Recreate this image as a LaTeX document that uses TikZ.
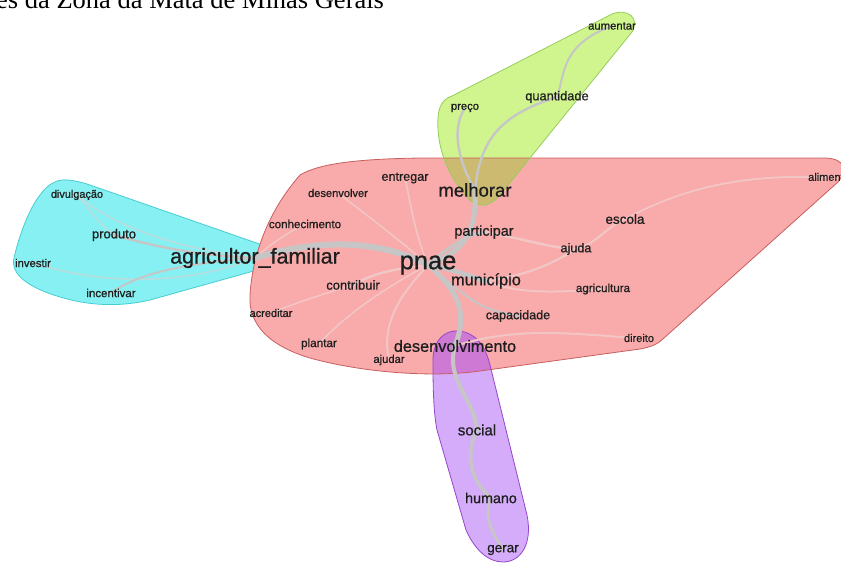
\documentclass[tikz,border=0pt]{standalone}
\usepackage{fontspec}
\setmainfont{Liberation Sans}
\newfontfamily\labfont[FakeBold=0.8]{Liberation Sans}
\newfontfamily\titlefont{Liberation Serif}
\pgfdeclarelayer{blobs}
\pgfdeclarelayer{edges}
\pgfsetlayers{blobs,edges,main}
\definecolor{redfill}{RGB}{249,170,170}
\definecolor{redline}{RGB}{200,95,95}
\definecolor{cyanfill}{RGB}{135,240,242}
\definecolor{cyanline}{RGB}{70,205,210}
\definecolor{greenfill}{RGB}{208,244,142}
\definecolor{greenline}{RGB}{150,205,90}
\definecolor{olivefill}{RGB}{204,186,112}
\definecolor{purplefill}{RGB}{212,172,250}
\definecolor{purpleline}{RGB}{150,70,200}
\definecolor{magfill}{RGB}{206,122,212}
\definecolor{edgegray}{RGB}{198,198,198}
\definecolor{faintred}{RGB}{243,198,198}
\definecolor{faintcyan}{RGB}{185,222,224}
\definecolor{labc}{RGB}{30,30,30}
\tikzset{
  lab/.style={text=labc, inner sep=0pt, font=\labfont\fontsize{#1}{#1}\selectfont},
  mainedge/.style={draw=edgegray, line width=#1, line cap=round},
  fainted/.style={draw=faintred, line width=#1, line cap=round},
  cyanedge/.style={draw=faintcyan, line width=#1, line cap=round},
}
\def\redpath{(300,175) .. controls (320,163) and (360,159) .. (420,158) -- (826,158) .. controls (845,159) and (848,170) .. (838,182) -- (664,338) .. controls (657,345) and (650,347) .. (640,349) -- (480,371) .. controls (430,378) and (360,372) .. (310,358) .. controls (270,346) and (248,325) .. (250,295) .. controls (252,260) and (265,215) .. (300,175) -- cycle}
\def\cyanpath{(55,182) .. controls (62,178) and (75,180) .. (90,185) -- (268,247) .. controls (282,251) and (282,262) .. (268,267) -- (150,300) .. controls (120,307) and (90,306) .. (60,297) .. controls (30,288) and (10,275) .. (14,258) .. controls (18,240) and (28,210) .. (40,195) .. controls (45,188) and (50,184) .. (55,182) -- cycle}
\def\greenpath{(452,96) -- (612,14) .. controls (628,8) and (640,18) .. (632,32) -- (500,195) .. controls (490,207) and (478,208) .. (470,200) .. controls (455,185) and (440,160) .. (438,130) .. controls (437,110) and (440,100) .. (452,96) -- cycle}
\def\purplepath{(433,360) .. controls (433,340) and (445,330) .. (458,331) .. controls (475,332) and (485,345) .. (490,365) -- (527,515) .. controls (533,545) and (520,562) .. (503,562) .. controls (488,562) and (475,550) .. (466,530) -- (437,430) .. controls (433,410) and (433,380) .. (433,360) -- cycle}
\begin{document}
\begin{tikzpicture}[x=1pt,y=-1pt]
\useasboundingbox (0,0) rectangle (841,563);
% title (cut at top of page)
\node[anchor=base west, inner sep=0pt, text=black, font=\titlefont\fontsize{26.5}{26.5}\selectfont] (title) at (-4,8) {es da Zona da Mata de Minas Gerais};
% labels
\node[lab=25.5] (pnae) at (428,265) {pnae};
\node[lab=21.5] (af) at (255,258) {agricultor\_familiar};
\node[lab=18.5] (mel) at (475,190) {melhorar};
\node[lab=16.3] (mun) at (486,281) {município};
\node[lab=16.3] (des) at (455,346) {desenvolvimento};
\node[lab=14.4] (part) at (484,232) {participar};
\node[lab=13] (contr) at (353,285) {contribuir};
\node[lab=12.6] (cap) at (518,316) {capacidade};
\node[lab=13.5] (esc) at (625,219) {escola};
\node[lab=12.6] (aju) at (576,249) {ajuda};
\node[lab=11.6] (agri) at (603,289) {agricultura};
\node[lab=11] (dir) at (639,338) {direito};
\node[lab=11, anchor=west] (ali) at (808,178) {alimentação};
\node[lab=12.6] (entr) at (405,178) {entregar};
\node[lab=11.1] (desv) at (338,193) {desenvolver};
\node[lab=11.6] (conh) at (305,224) {conhecimento};
\node[lab=11] (acr) at (271,313) {acreditar};
\node[lab=11.7] (plant) at (319,344) {plantar};
\node[lab=11.2] (ajudar) at (389,360) {ajudar};
\node[lab=11.2] (preco) at (465,108) {preço};
\node[lab=12.8] (quant) at (557,97) {quantidade};
\node[lab=11.3] (aum) at (612,26) {aumentar};
\node[lab=10.9] (divul) at (77,195) {divulgação};
\node[lab=13] (prod) at (114,235) {produto};
\node[lab=11.3] (inv) at (33,263) {investir};
\node[lab=11.5] (inc) at (111,293) {incentivar};
\node[lab=15] (soc) at (477,430) {social};
\node[lab=14.3] (hum) at (491,498) {humano};
\node[lab=13.5] (ger) at (503,550) {gerar};
% blobs
\begin{pgfonlayer}{blobs}
\fill[cyanfill] \cyanpath;
\draw[cyanline, line width=0.8pt] \cyanpath;
\fill[redfill] \redpath;
\fill[greenfill] \greenpath;
\begin{scope}
\clip \redpath;
\fill[olivefill] \greenpath;
\end{scope}
\fill[purplefill] \purplepath;
\begin{scope}
\clip \redpath;
\fill[magfill] \purplepath;
\end{scope}
\draw[redline, line width=0.8pt] \redpath;
\draw[greenline, line width=0.8pt] \greenpath;
\draw[purpleline, line width=0.8pt] \purplepath;
\end{pgfonlayer}
% edges
\begin{pgfonlayer}{edges}
% faint edges
\path[fainted=2.5] (part.center) .. controls (530,240) and (550,248) .. (aju.center);
\path[fainted=2.2] (aju.center) .. controls (595,245) and (605,228) .. (esc.center);
\path[fainted=1.8] (esc.center) .. controls (680,190) and (740,172) .. (ali.center);
\path[fainted=2.2] (mun.center) .. controls (530,275) and (555,262) .. (aju.center);
\path[fainted=2] (mun.center) .. controls (520,295) and (560,292) .. (agri.center);
\path[fainted=2] (des.center) .. controls (520,325) and (580,335) .. (dir.center);
\path[fainted=1.6] (contr.center) .. controls (320,295) and (290,305) .. (acr.center);
\path[fainted=1.6] (pnae.center) .. controls (380,290) and (340,320) .. (plant.center);
\path[fainted=2] (pnae.center) .. controls (405,290) and (380,320) .. (ajudar.center);
\path[fainted=1.6] (pnae.center) .. controls (415,235) and (410,200) .. (entr.center);
\path[fainted=1.6] (pnae.center) .. controls (400,240) and (360,210) .. (desv.center);
\path[fainted=1.6] (af.center) .. controls (275,240) and (290,232) .. (conh.center);
\path[fainted=2.5] (pnae.center) .. controls (400,268) and (375,272) .. (contr.center);
% cyan edges
\path[cyanedge=1.6] (divul.center) .. controls (100,215) and (150,245) .. (af.center);
\path[cyanedge=1.6] (prod.center) .. controls (100,225) and (90,210) .. (divul.center);
\path[cyanedge=1.6] (af.center) .. controls (200,280) and (120,290) .. (inv.center);
\path[mainedge=2.4] (af.center) .. controls (190,255) and (150,245) .. (prod.center);
\path[mainedge=2] (af.center) .. controls (160,265) and (130,280) .. (inc.center);
% main edges
\path[mainedge=6] (af.center) .. controls (320,238) and (380,240) .. (pnae.center);
\path[mainedge=5] (pnae.center) .. controls (465,252) and (477,230) .. (mel.center);
\path[mainedge=3] (pnae.center) .. controls (445,250) and (465,235) .. (part.center);
\path[mainedge=2.4] (mel.center) .. controls (460,165) and (450,130) .. (preco.center);
\path[mainedge=2.4] (mel.center) .. controls (480,140) and (500,115) .. (quant.center);
\path[mainedge=2] (quant.center) .. controls (565,75) and (560,45) .. (aum.center);
\path[mainedge=5] (pnae.center) .. controls (465,295) and (465,320) .. (des.center);
\path[mainedge=2] (pnae.center) .. controls (470,300) and (480,310) .. (cap.center);
\path[mainedge=5] (pnae.center) .. controls (450,268) and (465,275) .. (mun.center);
\path[mainedge=4] (des.center) .. controls (445,380) and (475,400) .. (soc.center);
\path[mainedge=3.5] (soc.center) .. controls (465,455) and (470,480) .. (hum.center);
\path[mainedge=3] (hum.center) .. controls (482,520) and (495,535) .. (ger.center);
\end{pgfonlayer}
\end{tikzpicture}
\end{document}
